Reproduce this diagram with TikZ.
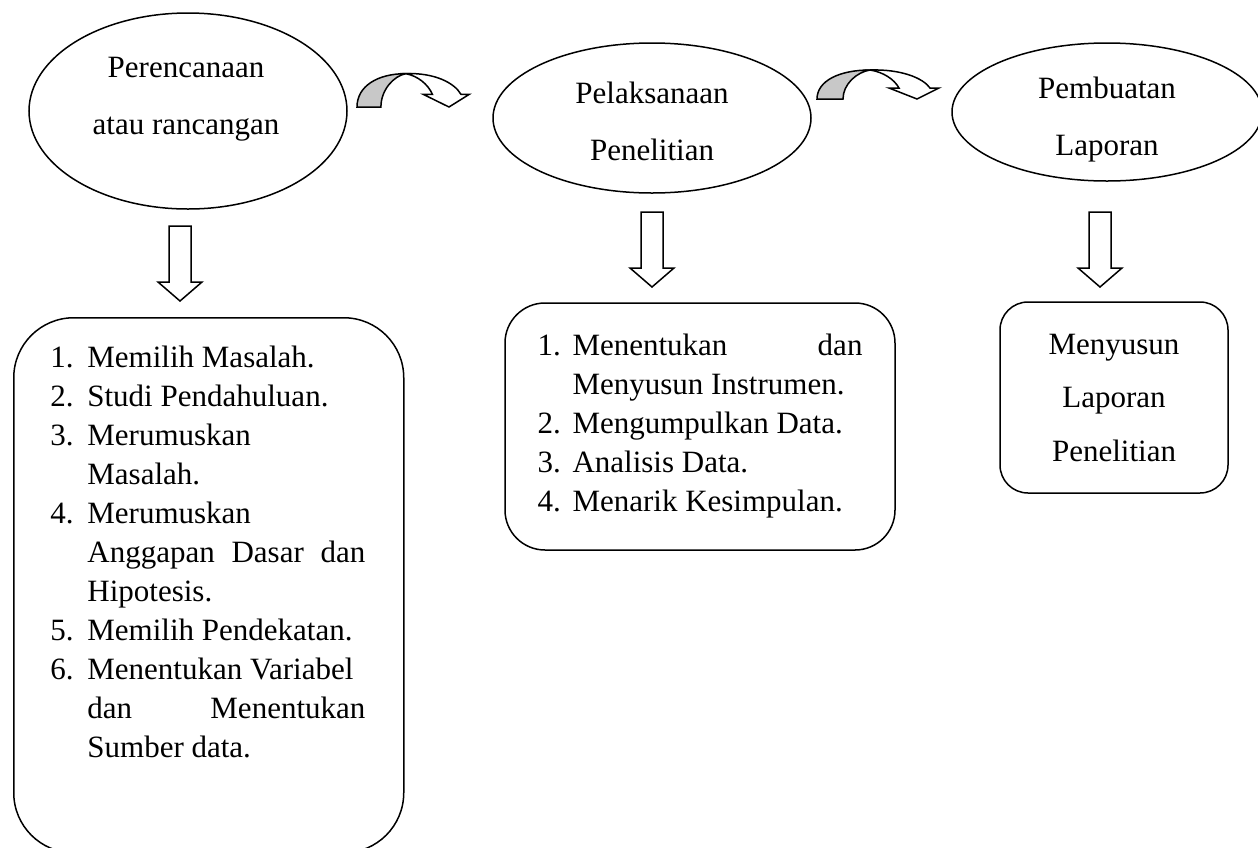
\documentclass[tikz,border=0pt]{standalone}
\usepackage{fontspec}
\setmainfont{Liberation Serif}
\usepackage{tikz}
\usetikzlibrary{shapes.geometric}
\definecolor{shade}{HTML}{C8C8C8}
\newcommand{\listfont}{\fontsize{15.5pt}{19.5pt}\selectfont}
\newcommand{\ovalfont}{\fontsize{15.5pt}{28.5pt}\selectfont}
\newcommand{\notefont}{\fontsize{15.5pt}{26.75pt}\selectfont}
\newcommand{\itemno}[2][18.5pt]{\makebox[#1][l]{#2}}
\tikzset{
  oval/.style={ellipse, draw, line width=0.75pt, inner sep=0pt},
  ovaltext/.style={inner sep=0pt, align=center, font=\ovalfont},
  frame/.style={rectangle, draw, line width=0.75pt, inner sep=0pt},
  lst/.style={inner sep=0pt, align=left, font=\listfont},
  blk/.style={draw, line width=0.75pt, fill=white, line join=miter},
  curvearrow/.pic={
    \draw[blk, fill=shade] (0,0) .. controls (0,-18) and (22,-29) .. (53,-29)
      .. controls (40,-27) and (26,-15) .. (26,0) -- cycle;
    \draw[blk] (53,-29) .. controls (84,-30) and (106,-21) .. (113,-11)
      -- (122,-11) -- (100,0) -- (72,-11) -- (82,-11)
      .. controls (77,-20) and (66,-27) .. (53,-29) -- cycle;
  },
  downarrow/.pic={
    \draw[blk] (-11,0) -- (11,0) -- (11,56) -- (22,56) -- (0,75)
      -- (-22,56) -- (-11,56) -- cycle;
  }
}
\begin{document}
\begin{tikzpicture}[x=0.5pt, y=-0.5pt]
    \useasboundingbox (0,0) rectangle (1258,847);

    % --- stages ---
    \node[oval, minimum width=159pt, minimum height=98pt] (plan) at (188,111) {};
    \node[ovaltext] (plantext) at (186,99) {Perencanaan\\atau rancangan};
    \node[oval, minimum width=159pt, minimum height=75pt] (exec) at (652,118) {};
    \node[ovaltext] (exectext) at (652,121) {Pelaksanaan\\Penelitian};
    \node[oval, minimum width=155pt, minimum height=69pt] (report) at (1107,112) {};
    \node[ovaltext] (reporttext) at (1107,120) {Pembuatan\\Laporan};

    \pic[xscale=.92, yscale=1.15] at (357,107) {curvearrow};
    \pic at (817,99) {curvearrow};

    \pic at (180,226) {downarrow};
    \pic at (652,212) {downarrow};
    \pic at (1100,212) {downarrow};

    % --- steps ---
    \node[frame, rounded corners=30pt, minimum width=195pt, minimum height=267.5pt, anchor=north west] (planbox) at (13,317) {};
    \node[lst, anchor=north west] (planlist) at (50,346) {%
        \itemno{1.}Memilih Masalah.\\
        \itemno{2.}Studi Pendahuluan.\\
        \itemno{3.}Merumuskan\\
        \itemno{}Masalah.\\
        \itemno{4.}Merumuskan\\
        \itemno{}\makebox[139pt][s]{Anggapan Dasar dan}\\
        \itemno{}Hipotesis.\\
        \itemno{5.}Memilih Pendekatan.\\
        \itemno{6.}Menentukan Variabel\\
        \itemno{}\makebox[139pt][s]{dan Menentukan}\\
        \itemno{}Sumber data.};

    \node[frame, lst, rounded corners=20pt, minimum width=195pt, minimum height=123.5pt] (execlist) at (700,426.5) {%
        \itemno[17.5pt]{1.}\makebox[145pt][s]{Menentukan dan}\\
        \itemno[17.5pt]{}Menyusun Instrumen.\\
        \itemno[17.5pt]{2.}Mengumpulkan Data.\\
        \itemno[17.5pt]{3.}Analisis Data.\\
        \itemno[17.5pt]{4.}Menarik Kesimpulan.};

    \node[frame, rounded corners=14pt, minimum width=114pt, minimum height=95.5pt, align=center, font=\notefont] (reportlist) at (1114,397.5) {Menyusun\\Laporan\\Penelitian};
\end{tikzpicture}
\end{document}
